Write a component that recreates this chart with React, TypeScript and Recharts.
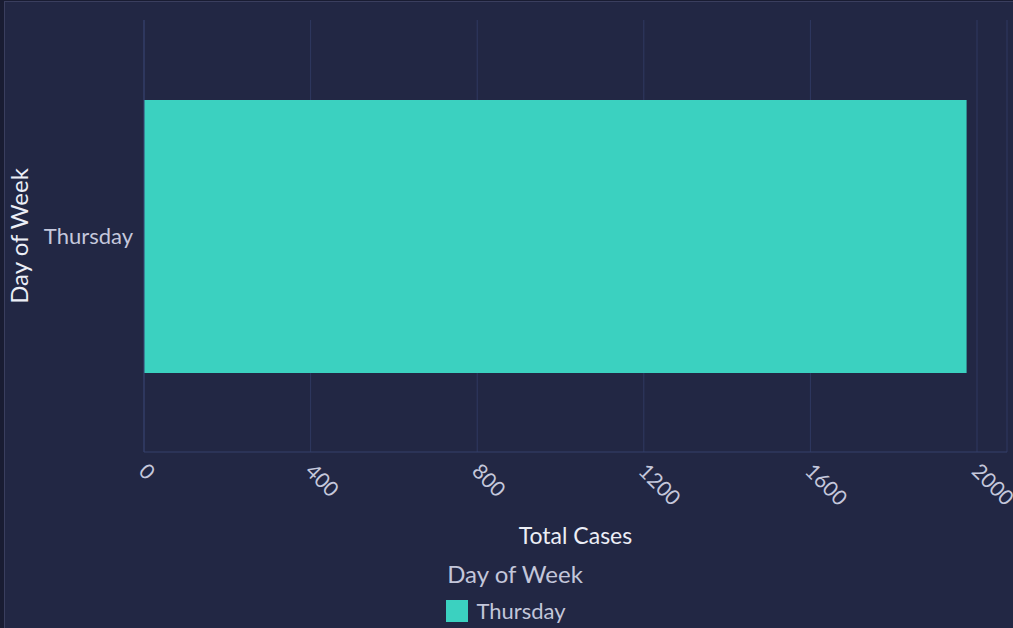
import React from "react";
import { BarChart, Bar, XAxis, YAxis, CartesianGrid, Legend } from "recharts";

const days = ["Thursday"];
const totalCases = [1975];
const xTicks = [0, 400, 800, 1200, 1600, 2000];

const data = days.map((d, i) => ({ day: d, cases: totalCases[i] }));

const BAR_COLOR = "#3bd1c0";
const FONT = "Lato, 'Noto Sans', sans-serif";

const LegendContent = () => (
  <div style={{ height: 70, fontFamily: FONT, textAlign: "center" }}>
    <div style={{ color: "#c3c6da", fontSize: 24, lineHeight: "28px", paddingTop: 2, paddingLeft: 18 }}>Day of Week</div>
    <div style={{ display: "inline-flex", alignItems: "center", marginTop: 11 }}>
      <span style={{ width: 22, height: 22, background: BAR_COLOR, display: "inline-block", marginRight: 8 }} />
      <span style={{ color: "#c3c6da", fontSize: 22, lineHeight: "24px" }}>{days[0]}</span>
    </div>
  </div>
);

export default function App() {
  return (
    <div style={{ position: "fixed", left: 0, top: 0, width: 1013, height: 628, background: "#191c32", overflow: "hidden" }}>
      <div style={{ position: "absolute", left: 4, top: 1, right: 0, bottom: 0, background: "#222744", borderLeft: "1px solid #3a3e5e", borderTop: "1px solid #3a3e5e" }} />
      <div style={{ position: "absolute", left: 0, top: 0 }}>
        <BarChart
          width={1013}
          height={628}
          data={data}
          layout="vertical"
          margin={{ top: 20, right: 6, left: 5, bottom: 0 }}
          barSize={273}
        >
          <CartesianGrid horizontal={false} stroke="#2f3961" />
          <XAxis
            type="number"
            dataKey="cases"
            domain={[0, 2072]}
            ticks={xTicks}
            interval={0}
            height={106}
            stroke="#34406a"
            tickLine={false}
            tickMargin={4}
            angle={45}
            textAnchor="start"
            tick={{ fill: "#c5c8dc", fontSize: 21, fontFamily: FONT, dx: 4 }}
            label={{ value: "Total Cases", position: "insideBottom", offset: 14, fill: "#eceef6", fontSize: 23, fontFamily: FONT }}
          />
          <YAxis
            type="category"
            dataKey="day"
            width={139}
            stroke="#34406a"
            tickLine={false}
            tickMargin={5}
            tick={{ fill: "#c5c8dc", fontSize: 22, fontFamily: FONT }}
            label={{ value: "Day of Week", angle: -90, position: "insideLeft", offset: 14, style: { textAnchor: "middle" }, fill: "#eceef6", fontSize: 24, fontFamily: FONT }}
          />
          <Legend verticalAlign="bottom" align="center" content={LegendContent} />
          <Bar dataKey="cases" fill={BAR_COLOR} isAnimationActive={false} />
        </BarChart>
      </div>
    </div>
  );
}
